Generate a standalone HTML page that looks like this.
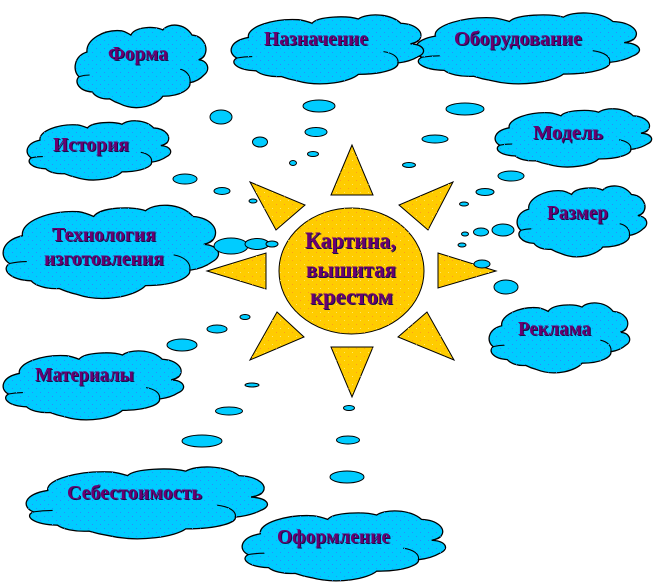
<!DOCTYPE html>
<html lang="ru">
<head>
<meta charset="utf-8">
<title>Картина, вышитая крестом</title>
<style>
html,body{margin:0;padding:0;background:#fff;}
svg{display:block;}
text{font-family:"Liberation Serif","Noto Serif CJK SC",serif;font-weight:bold;fill:#6a0070;text-anchor:start;filter:drop-shadow(1px 1px 0 #14104a);}
.c text{font-size:20px;}
</style>
</head>
<body>
<svg width="658" height="584" viewBox="0 0 658 584" xmlns="http://www.w3.org/2000/svg">
<defs>
<path id="c" vector-effect="non-scaling-stroke" d="M9,33 C8,18 22,6 35,8 C38,9 40,11 42,13 C45,3 60,2 66,7 C70,-1 82,-2 88,13 C96,14 101,27 97,38 C96,40 95,41 93,42 C100,43 102,54 97,60 C94,65 90,68 86.5,69 C87,76 80,85 66,85 C62,95 47,104 34,94 C30,92 28,90 26,88 C20,89 15,85 13,80 C3,79 -1,68 3,62 C-2,55 -1,38 9,33 Z"/>
<path id="l" vector-effect="non-scaling-stroke" fill="none" d="M3,62 Q7,60 11,60 M79,53 C84,55 87,61 86.5,69 M93,42 Q96,40 97,37"/>
<g id="clouds">
<use href="#c" transform="translate(415,12) scale(2.25,0.73)"/>
<use href="#c" transform="translate(231,14) scale(1.93,0.71)"/>
<use href="#c" transform="translate(75,24) scale(1.33,0.85)"/>
<use href="#c" transform="translate(495,108) scale(1.57,0.60)"/>
<use href="#c" transform="translate(517,185) scale(1.30,0.73)"/>
<use href="#c" transform="translate(489,302) scale(1.41,0.72)"/>
<use href="#c" transform="translate(27,120) scale(1.44,0.61)"/>
<use href="#c" transform="translate(3,204) scale(2.16,0.96)"/>
<use href="#c" transform="translate(3,350) scale(1.81,0.71)"/>
<use href="#c" transform="translate(26,466) scale(2.42,0.74)"/>
<use href="#c" transform="translate(242,510) scale(2.04,0.72)"/>
</g>
<g id="lines">
<use href="#l" transform="translate(415,12) scale(2.25,0.73)"/>
<use href="#l" transform="translate(231,14) scale(1.93,0.71)"/>
<use href="#l" transform="translate(75,24) scale(1.33,0.85)"/>
<use href="#l" transform="translate(495,108) scale(1.57,0.60)"/>
<use href="#l" transform="translate(517,185) scale(1.30,0.73)"/>
<use href="#l" transform="translate(489,302) scale(1.41,0.72)"/>
<use href="#l" transform="translate(27,120) scale(1.44,0.61)"/>
<use href="#l" transform="translate(3,204) scale(2.16,0.96)"/>
<use href="#l" transform="translate(3,350) scale(1.81,0.71)"/>
<use href="#l" transform="translate(26,466) scale(2.42,0.74)"/>
<use href="#l" transform="translate(242,510) scale(2.04,0.72)"/>
</g>
<g id="bubbles">
<ellipse cx="221" cy="117" rx="11" ry="7"/>
<ellipse cx="260" cy="142" rx="7.5" ry="5"/>
<ellipse cx="293" cy="163" rx="3.5" ry="2.5"/>
<ellipse cx="313" cy="154" rx="5.5" ry="2.5"/>
<ellipse cx="316" cy="132" rx="11" ry="4.5"/>
<ellipse cx="319" cy="106" rx="16" ry="6"/>
<ellipse cx="185" cy="179" rx="12" ry="5"/>
<ellipse cx="222" cy="191" rx="8" ry="3.5"/>
<ellipse cx="253" cy="201" rx="4" ry="2"/>
<ellipse cx="231" cy="246" rx="17" ry="8"/>
<ellipse cx="257" cy="244" rx="12" ry="5.5"/>
<ellipse cx="272" cy="244" rx="6" ry="3"/>
<ellipse cx="465" cy="109" rx="19" ry="6"/>
<ellipse cx="435" cy="139" rx="13" ry="4"/>
<ellipse cx="409" cy="165" rx="6.5" ry="2.5"/>
<ellipse cx="511" cy="176" rx="13" ry="5"/>
<ellipse cx="485" cy="192" rx="9" ry="3.5"/>
<ellipse cx="464" cy="204" rx="4.5" ry="2"/>
<ellipse cx="503" cy="230" rx="11" ry="6"/>
<ellipse cx="481" cy="232" rx="7.5" ry="4"/>
<ellipse cx="465" cy="234" rx="3.5" ry="2"/>
<ellipse cx="462" cy="245" rx="4" ry="2"/>
<ellipse cx="506" cy="287" rx="12" ry="7"/>
<ellipse cx="245" cy="317" rx="5" ry="2.5"/>
<ellipse cx="217" cy="329" rx="10" ry="4"/>
<ellipse cx="182" cy="345" rx="15" ry="6"/>
<ellipse cx="252" cy="385" rx="7" ry="2"/>
<ellipse cx="229" cy="411" rx="13.5" ry="4"/>
<ellipse cx="202" cy="441" rx="20" ry="6"/>
<ellipse cx="349" cy="408" rx="5.5" ry="2.5"/>
<ellipse cx="348" cy="440" rx="11.5" ry="4"/>
<ellipse cx="347" cy="477" rx="17" ry="6"/>
</g>
<g id="sun">
<polygon points="352,145 331,195 373,195"/>
<polygon points="250,182 305,205 276,230"/>
<polygon points="453,182 399,205 428,230"/>
<polygon points="207,271 266,253 266,289"/>
<polygon points="438,253 496,271 438,288"/>
<polygon points="277,312 304,337 250,360"/>
<polygon points="427,312 398,337 454,360"/>
<polygon points="331,347 373,347 352,397"/>
<ellipse cx="351.5" cy="271" rx="72.5" ry="63"/>
</g>
<pattern id="dotsB" width="8" height="8" patternUnits="userSpaceOnUse">
<rect x="0" y="0" width="1" height="1" fill="#2a8cff"/>
<rect x="4" y="4" width="1" height="1" fill="#2a8cff"/>
</pattern>
<pattern id="dotsS" width="8" height="8" patternUnits="userSpaceOnUse">
<rect x="0" y="0" width="1" height="1" fill="#ffe866"/>
<rect x="4" y="4" width="1" height="1" fill="#ff9a20"/>
</pattern>
<mask id="mc" maskUnits="userSpaceOnUse" x="0" y="0" width="658" height="584">
<use href="#clouds" fill="#fff"/>
</mask>
<mask id="ms" maskUnits="userSpaceOnUse" x="0" y="0" width="658" height="584">
<use href="#sun" fill="#fff"/>
</mask>
</defs>

<rect width="658" height="584" fill="#fff"/>
<use href="#clouds" fill="#00ccff" stroke="#000" stroke-width="1.3"/>
<use href="#lines" stroke="#000" stroke-width="1.1"/>
<rect width="658" height="584" fill="url(#dotsB)" mask="url(#mc)"/>
<use href="#sun" fill="#ffcc00" stroke="#000" stroke-width="1"/>
<rect width="658" height="584" fill="url(#dotsS)" mask="url(#ms)"/>
<use href="#bubbles" fill="#00ccff" stroke="#000" stroke-width="1"/>
<ellipse cx="482" cy="264" rx="8" ry="4" fill="#00ccff" stroke="#000" stroke-width="1"/>

<g class="c">
<text x="108" y="60" textLength="60" lengthAdjust="spacingAndGlyphs">Форма</text>
<text x="264" y="45" textLength="104" lengthAdjust="spacingAndGlyphs">Назначение</text>
<text x="454" y="45" textLength="128" lengthAdjust="spacingAndGlyphs">Оборудование</text>
<text x="533" y="139" textLength="70" lengthAdjust="spacingAndGlyphs">Модель</text>
<text x="547" y="219" textLength="61" lengthAdjust="spacingAndGlyphs">Размер</text>
<text x="518" y="335" textLength="73" lengthAdjust="spacingAndGlyphs">Реклама</text>
<text x="53" y="151" textLength="76" lengthAdjust="spacingAndGlyphs">История</text>
<text x="52" y="241" textLength="104" lengthAdjust="spacingAndGlyphs">Технология</text>
<text x="44" y="265" textLength="120" lengthAdjust="spacingAndGlyphs">изготовления</text>
<text x="35" y="381" textLength="99" lengthAdjust="spacingAndGlyphs">Материалы</text>
<text x="67" y="499" textLength="135" lengthAdjust="spacingAndGlyphs">Себестоимость</text>
<text x="277" y="543" textLength="113" lengthAdjust="spacingAndGlyphs">Оформление</text>
</g>
<g>
<text x="305" y="248" font-size="23" textLength="91" lengthAdjust="spacingAndGlyphs">Картина,</text>
<text x="306" y="277" font-size="23" textLength="90" lengthAdjust="spacingAndGlyphs">вышитая</text>
<text x="310" y="304" font-size="23" textLength="83" lengthAdjust="spacingAndGlyphs">крестом</text>
</g>
</svg>
</body>
</html>
